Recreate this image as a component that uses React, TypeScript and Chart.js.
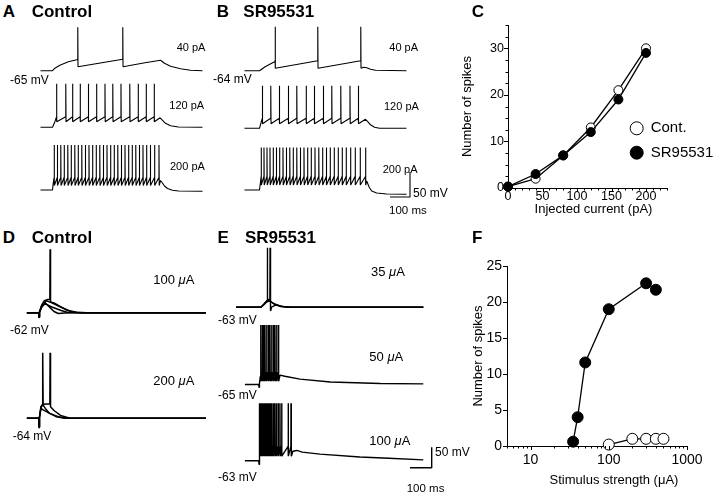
import React, { useEffect, useRef } from "react";
import { Chart, registerables } from "chart.js";
Chart.register(...registerables);

type Pt = [number, number];

// ---------------- Panel C : spikes vs injected current ----------------
const injectedCurrent = [0, 40, 80, 120, 160, 200];
const spikesControlC = [0.3, 2.0, 7.0, 13, 21, 30];
const spikesSRC = [0.3, 3.0, 7.0, 12, 19, 29];
const seriesNames = ["Cont.", "SR95531"];
const cXTicks = [0, 10, 20, 30, 40, 50, 60, 70, 80, 90, 100, 110, 120, 130, 140, 150, 160, 170, 180, 190, 200, 210, 220, 230];
const cXLabels = [0, 50, 100, 150, 200];
const cYTicks = [0, 2.5, 5, 7.5, 10, 12.5, 15, 17.5, 20, 22.5, 25, 27.5, 30, 32.5, 35];
const cYLabels = [0, 10, 20, 30];

// ---------------- Panel F : spikes vs stimulus strength ----------------
const stimSR = [35, 40, 50, 100, 300, 400];
const spikesStimSR = [0.6, 4, 11.6, 19, 22.6, 21.7];
const stimControl = [100, 200, 300, 400, 500];
const spikesStimControl = [0.2, 1, 1, 1, 1];
const fXTicks = [5, 6, 7, 8, 9, 10, 20, 30, 40, 50, 60, 70, 80, 90, 100, 200, 300, 400, 500, 600, 700, 800, 900, 1000];
const fXLabels = [10, 100, 1000];
const fYTicks = [0, 5, 10, 15, 20, 25];

// ---------------- Panel A : Control, current steps (ms, mV) ----------------
const spikesA40 = [126, 351];
const spikesA120 = [20, 66, 100, 138, 179, 220, 262, 301, 342, 386, 428, 468, 508];
const spikesA200 = [8, 24, 41, 58, 76, 93, 111, 128, 146, 164, 182, 200, 218, 236, 254, 272, 290, 308, 326, 344, 362, 380, 398, 416, 434, 452, 470, 489, 510, 532];
// [rest, pre-spike, AHP, peak]
const levelsA40 = [-65, -42, -57, 22];
const levelsA120 = [-65, -44, -54, 22];
const levelsA200 = [-65, -40, -56, 25];
const riseA40: Pt[] = [[0, -65], [12, -60], [37, -54], [79, -47], [121, -43]];
const riseA120: Pt[] = [[0, -65], [10, -56]];
const riseA200: Pt[] = [[0, -65], [4, -50]];
const tailA40: Pt[] = [[462, -49], [540, -44], [560, -50], [590, -56], [640, -61], [690, -64], [750, -65]];
const tailA120: Pt[] = [[538, -46], [548, -50], [565, -57], [590, -62], [630, -64.5], [750, -65]];
const tailA200: Pt[] = [[540, -46], [548, -50], [560, -57], [575, -62], [600, -65.5], [630, -67], [750, -67.5]];

// ---------------- Panel B : SR95531, current steps ----------------
const spikesB40 = [78, 291, 506];
const spikesB120 = [14, 56, 99, 144, 186, 233, 274, 319, 361, 406, 452, 494];
const spikesB200 = [8, 22, 37, 52, 68, 84, 100, 117, 134, 151, 168, 186, 204, 222, 240, 258, 277, 296, 315, 334, 353, 373, 393, 413, 433, 455, 478, 503, 530];
const levelsB40 = [-64, -44, -59, 24];
const levelsB120 = [-64, -44, -55, 21];
const levelsB200 = [-64, -37, -54, 21];
const riseB40: Pt[] = [[0, -64], [28, -56], [61, -49], [76, -46]];
const riseB120: Pt[] = [[0, -64], [8, -52]];
const riseB200: Pt[] = [[0, -64], [5, -48]];
const tailB40: Pt[] = [[520, -57], [536, -58], [555, -61], [580, -63], [735, -64]];
const tailB120: Pt[] = [[530, -46], [540, -50], [555, -57], [575, -62], [600, -64], [735, -64]];
const tailB200: Pt[] = [[536, -46], [548, -58], [561, -66], [586, -70], [636, -72], [735, -72.5]];

// ---------------- Panel D : Control, synaptic stimulation (overlaid sweeps) ----------------
const sweepsD100: Pt[][] = [
  [[-55, -62], [0, -62], [1, -74], [3, -60], [12, -45], [25, -33], [40, -30], [51, -29], [52, 93], [54, -36], [70, -38], [100, -47], [130, -56], [160, -61], [200, -62], [770, -62]],
  [[-55, -62], [0, -62], [1, -72], [3, -61], [15, -44], [35, -33], [60, -38], [100, -48], [140, -57], [175, -61], [220, -62], [770, -62]],
  [[-55, -62], [0, -62], [1, -73], [3, -61], [14, -46], [28, -37], [45, -46], [70, -59], [90, -64], [120, -63], [160, -62], [770, -62]],
  [[-55, -62], [0, -62], [1, -72], [3, -61], [14, -48], [28, -40], [60, -48], [100, -56], [130, -61], [170, -62], [770, -62]],
];
const sweepsD200: Pt[][] = [
  [[-55, -64], [0, -64], [1, -87], [3, -62], [10, -35], [17, -30], [18, 96], [20, -32], [30, -40], [50, -52], [80, -60], [120, -64], [770, -64]],
  [[-55, -64], [0, -64], [1, -85], [3, -62], [10, -38], [20, -30], [40, -29], [51, -29], [52, 96], [54, -36], [70, -45], [100, -57], [140, -63], [770, -64]],
  [[-55, -64], [0, -64], [1, -84], [3, -62], [10, -40], [22, -44], [50, -52], [90, -60], [130, -64], [770, -64]],
];

// ---------------- Panel E : SR95531, synaptic stimulation ----------------
const sweepsE35: Pt[][] = [
  [[-105, -63], [10, -63], [25, -55], [38, -46], [39, 82], [41, -50], [50, -47], [70, -55], [100, -61], [140, -63], [758, -63]],
  [[-105, -63], [10, -63], [25, -54], [44, -44], [51, -44], [52, 82], [54, -72], [60, -62], [80, -57], [110, -61], [150, -63], [758, -63]],
  [[-105, -63], [10, -63], [25, -56], [44, -46], [70, -54], [100, -60], [140, -63], [758, -63]],
];
const spikesE50 = [9, 16, 22, 28, 36, 44, 51, 59, 67, 74, 82, 90];
const spikesE100 = [3, 8, 13, 18, 24, 30, 36, 42, 48, 54, 60, 67, 74, 81, 89, 97, 105, 135, 148];
const levelsE50 = [-65, -35, -57, 80];
const levelsE100 = [-63, -28, -52, 77];
const riseE50: Pt[] = [[0, -65], [1, -72], [3, -63], [7, -45]];
const riseE100: Pt[] = [[0, -63], [1, -72], [2, -45]];
const tailE50: Pt[] = [[92, -57], [98, -42], [120, -45], [190, -52], [330, -59], [560, -62.5], [758, -63.5]];
const tailE100: Pt[] = [[150, -52], [157, -40], [175, -38], [200, -42], [282, -47], [466, -54], [600, -57], [758, -61]];

const scaleBarMs = 100;
const scaleBarMv = 50;

// ---------------- layout (pixel placement of the trace panels) ----------------
const FONT = "'Liberation Sans', Arial, Helvetica, sans-serif";
type PanelMap = { left: number; top: number; width: number; height: number; px0: number; ppx: number; pyBase: number; vBase: number; ppy: number };
const mapA: PanelMap = { left: 30, top: 20, width: 180, height: 180, px0: 52.5, ppx: 0.2, pyBase: 70.7, vBase: -65, ppy: 0.5 };
const mapB: PanelMap = { left: 235, top: 20, width: 180, height: 180, px0: 259.5, ppx: 0.2, pyBase: 70.7, vBase: -64, ppy: 0.5 };
const mapD: PanelMap = { left: 20, top: 245, width: 195, height: 200, px0: 38.8, ppx: 0.217, pyBase: 312.7, vBase: -62, ppy: 0.41 };
const mapE: PanelMap = { left: 230, top: 245, width: 210, height: 230, px0: 258.8, ppx: 0.217, pyBase: 307.3, vBase: -63, ppy: 0.41 };
const baselinesA = [70.7, 127.3, 190];
const baselinesB = [70.7, 128.3, 190];
const baselinesD = [312.7, 418.3];
const baselinesE = [307.3, 384.5, 460.7];

function stepTrace(start: number, levels: number[], rise: Pt[], spikes: number[], tail: Pt[]): Pt[] {
  const [rest, pre, ahp, peak] = levels;
  const pts: Pt[] = [[start, rest], ...rise];
  spikes.forEach((t) => {
    pts.push([t, pre], [t + 0.4, peak], [t + 1.6, ahp]);
  });
  return pts.concat(tail);
}

function offsetFor(m: PanelMap, basePx: number, rest: number) {
  return m.vBase - (basePx - m.pyBase) / m.ppy - rest;
}
function toXY(pts: Pt[], off: number) {
  return pts.map(([x, y]) => ({ x, y: y + off }));
}
function pxToData(m: PanelMap, px: number, py: number) {
  return { x: (px - m.px0) / m.ppx, y: m.vBase - (py - m.pyBase) / m.ppy };
}
function scaleBar(m: PanelMap, cornerPx: number, cornerPy: number) {
  const c = pxToData(m, cornerPx, cornerPy);
  return [{ x: c.x - scaleBarMs, y: c.y }, { x: c.x, y: c.y }, { x: c.x, y: c.y + scaleBarMv }];
}

function traceConfig(m: PanelMap, series: { x: number; y: number }[][], width: number): any {
  return {
    type: "scatter",
    data: {
      datasets: series.map((d) => ({
        data: d,
        showLine: true,
        borderColor: "#000",
        backgroundColor: "#000",
        borderWidth: width,
        pointRadius: 0,
        pointHoverRadius: 0,
        tension: 0,
        fill: false,
        borderJoinStyle: "bevel",
        clip: false,
      })),
    },
    options: {
      responsive: false,
      animation: false,
      events: [],
      layout: { padding: 0 },
      plugins: { legend: { display: false }, tooltip: { enabled: false } },
      scales: {
        x: { type: "linear", display: false, min: (m.left - m.px0) / m.ppx, max: (m.left + m.width - m.px0) / m.ppx },
        y: { type: "linear", display: false, min: m.vBase - (m.top + m.height - m.pyBase) / m.ppy, max: m.vBase + (m.pyBase - m.top) / m.ppy },
      },
    },
  };
}

function configA() {
  const traces = [
    stepTrace(-60, levelsA40, riseA40, spikesA40, tailA40),
    stepTrace(-60, levelsA120, riseA120, spikesA120, tailA120),
    stepTrace(-60, levelsA200, riseA200, spikesA200, tailA200),
  ];
  const rests = [levelsA40[0], levelsA120[0], levelsA200[0]];
  return traceConfig(mapA, traces.map((t, i) => toXY(t, offsetFor(mapA, baselinesA[i], rests[i]))), 1.1);
}
function configB() {
  const traces = [
    stepTrace(-75, levelsB40, riseB40, spikesB40, tailB40),
    stepTrace(-75, levelsB120, riseB120, spikesB120, tailB120),
    stepTrace(-75, levelsB200, riseB200, spikesB200, tailB200),
  ];
  const rests = [levelsB40[0], levelsB120[0], levelsB200[0]];
  const series = traces.map((t, i) => toXY(t, offsetFor(mapB, baselinesB[i], rests[i])));
  series.push(scaleBar(mapB, 410, 197));
  return traceConfig(mapB, series, 1.1);
}
function configD() {
  const series = [
    ...sweepsD100.map((s) => toXY(s, offsetFor(mapD, baselinesD[0], -62))),
    ...sweepsD200.map((s) => toXY(s, offsetFor(mapD, baselinesD[1], -64))),
  ];
  return traceConfig(mapD, series, 1.5);
}
function configE() {
  const series = [
    ...sweepsE35.map((s) => toXY(s, offsetFor(mapE, baselinesE[0], -63))),
    toXY(stepTrace(-64, levelsE50, riseE50, spikesE50, tailE50), offsetFor(mapE, baselinesE[1], levelsE50[0])),
    toXY(stepTrace(-64, levelsE100, riseE100, spikesE100, tailE100), offsetFor(mapE, baselinesE[2], levelsE100[0])),
    scaleBar(mapE, 431.7, 467.7),
  ];
  return traceConfig(mapE, series, 1.4);
}

// ---------------- plugins for the two x-y plots ----------------
const tickMarks = {
  id: "tickMarks",
  afterDraw(chart: any) {
    const ctx = chart.ctx;
    ctx.save();
    ctx.strokeStyle = "#000";
    ctx.lineWidth = 1;
    ["x", "y"].forEach((id) => {
      const s = chart.scales[id];
      s.ticks.forEach((t: any) => {
        const major = t.label !== "" && t.label != null;
        const len = major ? 4 : 2.5;
        const p = Math.round(s.getPixelForValue(t.value)) + 0.5;
        ctx.beginPath();
        if (id === "x") {
          ctx.moveTo(p, s.top);
          ctx.lineTo(p, s.top + len);
        } else {
          ctx.moveTo(s.right, p);
          ctx.lineTo(s.right - len, p);
        }
        ctx.stroke();
      });
    });
    ctx.restore();
  },
};
const xTitle = {
  id: "xTitle",
  afterDraw(chart: any, _a: any, opts: any) {
    const ctx = chart.ctx;
    ctx.save();
    ctx.fillStyle = "#000";
    ctx.font = `${opts.size}px ${FONT}`;
    ctx.textAlign = "center";
    ctx.textBaseline = "middle";
    ctx.fillText(opts.text, opts.x, opts.y);
    ctx.restore();
  },
};
const legendC = {
  id: "legendC",
  afterDraw(chart: any, _a: any, opts: any) {
    const ctx = chart.ctx;
    ctx.save();
    opts.items.forEach((it: any, i: number) => {
      const y = opts.y + i * opts.dy;
      ctx.beginPath();
      ctx.arc(opts.x, y, opts.r, 0, Math.PI * 2);
      ctx.fillStyle = it.fill;
      ctx.fill();
      ctx.lineWidth = 1;
      ctx.strokeStyle = "#000";
      ctx.stroke();
      ctx.fillStyle = "#000";
      ctx.font = `15px ${FONT}`;
      ctx.textAlign = "left";
      ctx.textBaseline = "middle";
      ctx.fillText(it.label, opts.x + 14, y);
    });
    ctx.restore();
  },
};

function lineSet(label: string, xs: number[], ys: number[], fill: string, r: number, order: number) {
  return {
    label,
    data: xs.map((x, i) => ({ x, y: ys[i] })),
    showLine: true,
    borderColor: "#000",
    borderWidth: 1.3,
    pointRadius: r,
    pointHoverRadius: r,
    pointBorderWidth: 1,
    pointBorderColor: "#000",
    pointBackgroundColor: fill,
    backgroundColor: fill,
    tension: 0,
    clip: false,
    order,
  };
}

function axisCommon(size: number, padding: number, labelsOk: (v: number) => boolean) {
  return {
    ticks: {
      autoSkip: false,
      maxRotation: 0,
      minRotation: 0,
      padding,
      color: "#000",
      font: { family: FONT, size },
      callback: (v: any) => (labelsOk(Number(v)) ? String(v) : ""),
    },
    grid: { display: false, drawTicks: false },
    border: { display: true, color: "#000", width: 1 },
  };
}

function configC(): any {
  return {
    type: "scatter",
    data: {
      datasets: [
        lineSet(seriesNames[1], injectedCurrent, spikesSRC, "#000", 4.5, 0),
        lineSet(seriesNames[0], injectedCurrent, spikesControlC, "#fff", 4.5, 1),
      ],
    },
    options: {
      responsive: false,
      animation: false,
      events: [],
      layout: { padding: { left: 0, right: 53.3, top: 25, bottom: 0 } },
      plugins: {
        legend: { display: false },
        tooltip: { enabled: false },
        xTitle: { text: "Injected current (pA)", x: 133.5, y: 209, size: 13 },
        legendC: { items: [{ label: seriesNames[0], fill: "#fff" }, { label: seriesNames[1], fill: "#000" }], x: 176.7, y: 128.3, dy: 24.4, r: 6.5 },
      },
      scales: {
        x: {
          type: "linear",
          min: 0,
          max: 230,
          afterBuildTicks: (s: any) => { s.ticks = cXTicks.map((v) => ({ value: v })); },
          afterFit: (s: any) => { s.height = 42; },
          ...axisCommon(12.5, 1.5, (v) => cXLabels.includes(v)),
        },
        y: {
          type: "linear",
          min: 0,
          max: 35,
          afterBuildTicks: (s: any) => { s.ticks = cYTicks.map((v) => ({ value: v })); },
          afterFit: (s: any) => { s.width = 48; },
          ...axisCommon(12.5, 4, (v) => cYLabels.includes(v)),
          title: { display: true, text: "Number of spikes", color: "#000", font: { family: FONT, size: 13 }, padding: { top: 0, bottom: 0 } },
        },
      },
    },
    plugins: [tickMarks, xTitle, legendC],
  };
}

function configF(): any {
  return {
    type: "scatter",
    data: {
      datasets: [
        lineSet("SR95531", stimSR, spikesStimSR, "#000", 5.5, 0),
        lineSet("Cont.", stimControl, spikesStimControl, "#fff", 5.5, 1),
      ],
    },
    options: {
      responsive: false,
      animation: false,
      events: [],
      layout: { padding: { left: 0, right: 33, top: 26, bottom: 0 } },
      plugins: {
        legend: { display: false },
        tooltip: { enabled: false },
        xTitle: { text: "Stimulus strength (μA)", x: 154, y: 240, size: 13 },
      },
      scales: {
        x: {
          type: "logarithmic",
          min: 5,
          max: 1000,
          afterBuildTicks: (s: any) => { s.ticks = fXTicks.map((v) => ({ value: v })); },
          afterFit: (s: any) => { s.height = 50; },
          ...axisCommon(14, 6, (v) => fXLabels.includes(v)),
        },
        y: {
          type: "linear",
          min: 0,
          max: 25,
          afterBuildTicks: (s: any) => { s.ticks = fYTicks.map((v) => ({ value: v })); },
          afterFit: (s: any) => { s.width = 47; },
          ...axisCommon(14, 5, () => true),
          title: { display: true, text: "Number of spikes", color: "#000", font: { family: FONT, size: 13 }, padding: { top: 10.2, bottom: 0 } },
        },
      },
    },
    plugins: [tickMarks, xTitle],
  };
}

function ChartCanvas({ left, top, width, height, make }: { left: number; top: number; width: number; height: number; make: () => any }) {
  const ref = useRef<HTMLCanvasElement>(null);
  useEffect(() => {
    const chart = new Chart(ref.current as HTMLCanvasElement, make());
    return () => chart.destroy();
  }, []);
  return (
    <canvas
      ref={ref}
      width={width}
      height={height}
      style={{ position: "absolute", left, top, width, height }}
    />
  );
}

type Lbl = { text: React.ReactNode; x: number; cy: number; size: number; bold?: boolean; right?: boolean };

function Label({ l }: { l: Lbl }) {
  return (
    <div
      style={{
        position: "absolute",
        left: l.x,
        top: l.cy - 0.49 * l.size,
        fontFamily: FONT,
        fontSize: l.size,
        fontWeight: l.bold ? "bold" : "normal",
        lineHeight: 1,
        whiteSpace: "nowrap",
        color: "#000",
        transform: l.right ? "translateX(-100%)" : undefined,
      }}
    >
      {l.text}
    </div>
  );
}

const mu = <span style={{ fontStyle: "italic" }}>μ</span>;

export default function App() {
  const r1 = 17.3 - 0.358 * 17;
  const r2 = 243.5 - 0.358 * 17;
  const labels: Lbl[] = [
    { text: "A", x: 2.7, cy: r1, size: 17, bold: true },
    { text: "Control", x: 31.7, cy: r1, size: 17, bold: true },
    { text: "B", x: 216.7, cy: r1, size: 17, bold: true },
    { text: "SR95531", x: 243.3, cy: r1, size: 17, bold: true },
    { text: "C", x: 471.7, cy: r1, size: 17, bold: true },
    { text: "D", x: 2.7, cy: r2, size: 17, bold: true },
    { text: "Control", x: 31.7, cy: r2, size: 17, bold: true },
    { text: "E", x: 217.5, cy: r2, size: 17, bold: true },
    { text: "SR95531", x: 245, cy: r2, size: 17, bold: true },
    { text: "F", x: 472, cy: r2, size: 17, bold: true },
    { text: "-65 mV", x: 10, cy: 80, size: 12 },
    { text: "40 pA", x: 176.7, cy: 47, size: 11 },
    { text: "120 pA", x: 169.3, cy: 105, size: 11 },
    { text: "200 pA", x: 170, cy: 166.7, size: 11 },
    { text: "-64 mV", x: 251.7, cy: 79, size: 12, right: true },
    { text: "40 pA", x: 389.3, cy: 47, size: 11 },
    { text: "120 pA", x: 384, cy: 106, size: 11 },
    { text: "200 pA", x: 382.7, cy: 169.3, size: 11 },
    { text: "50 mV", x: 413, cy: 192.5, size: 12 },
    { text: "100 ms", x: 389, cy: 210.7, size: 11.5 },
    { text: "-62 mV", x: 10, cy: 330, size: 12 },
    { text: "-64 mV", x: 12.7, cy: 436, size: 12 },
    { text: <>100 {mu}A</>, x: 153.3, cy: 279.3, size: 13 },
    { text: <>200 {mu}A</>, x: 153.3, cy: 380, size: 13 },
    { text: "-63 mV", x: 256.7, cy: 320, size: 12, right: true },
    { text: "-65 mV", x: 256.7, cy: 395, size: 12, right: true },
    { text: "-63 mV", x: 256.7, cy: 477.3, size: 12, right: true },
    { text: <>35 {mu}A</>, x: 371, cy: 271.7, size: 13 },
    { text: <>50 {mu}A</>, x: 369.3, cy: 356.7, size: 13 },
    { text: <>100 {mu}A</>, x: 369.3, cy: 440, size: 13 },
    { text: "50 mV", x: 435, cy: 452.3, size: 12 },
    { text: "100 ms", x: 406.7, cy: 488.3, size: 11.5 },
  ];
  return (
    <div style={{ position: "absolute", left: 0, top: 0, width: 720, height: 496, overflow: "hidden", background: "#fff" }}>
      <ChartCanvas left={mapA.left} top={mapA.top} width={mapA.width} height={mapA.height} make={configA} />
      <ChartCanvas left={mapB.left} top={mapB.top} width={mapB.width} height={mapB.height} make={configB} />
      <ChartCanvas left={mapD.left} top={mapD.top} width={mapD.width} height={mapD.height} make={configD} />
      <ChartCanvas left={mapE.left} top={mapE.top} width={mapE.width} height={mapE.height} make={configE} />
      <ChartCanvas left={460} top={0} width={260} height={230} make={configC} />
      <ChartCanvas left={460} top={240} width={260} height={256} make={configF} />
      {labels.map((l, i) => (
        <Label key={i} l={l} />
      ))}
    </div>
  );
}
